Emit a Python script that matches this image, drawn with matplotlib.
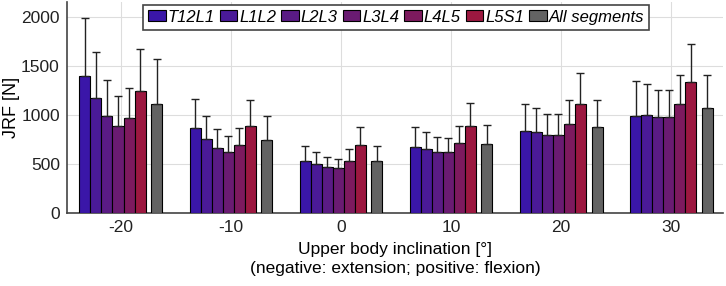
import numpy as np
import matplotlib.pyplot as plt

plt.rcParams['font.family'] = ['Liberation Sans', 'DejaVu Sans']
plt.rcParams['axes.unicode_minus'] = False

angles = [-20, -10, 0, 10, 20, 30]
segments = ['T12L1', 'L1L2', 'L2L3', 'L3L4', 'L4L5', 'L5S1', 'All segments']

# mean JRF per segment, one list per inclination angle
mean_vals = {
    'T12L1':        [1400, 867, 531, 670, 834, 990],
    'L1L2':         [1170, 755, 497, 650, 823, 1000],
    'L2L3':         [990, 663, 469, 619, 793, 976],
    'L3L4':         [891, 619, 459, 619, 799, 976],
    'L4L5':         [966, 690, 534, 714, 911, 1109],
    'L5S1':         [1248, 891, 697, 888, 1112, 1340],
    'All segments': [1109, 748, 534, 701, 881, 1068],
}
# top of the error bar (mean + SD)
err_top = {
    'T12L1':        [1990, 1163, 687, 881, 1109, 1347],
    'L1L2':         [1636, 990, 622, 823, 1068, 1313],
    'L2L3':         [1357, 857, 575, 772, 1013, 1258],
    'L3L4':         [1197, 786, 554, 769, 1013, 1252],
    'L4L5':         [1276, 870, 650, 888, 1153, 1408],
    'L5S1':         [1670, 1156, 874, 1126, 1425, 1721],
    'All segments': [1565, 993, 684, 901, 1156, 1405],
}

colors = ['#3a16a8', '#4a1a98', '#5a1b85', '#6a1b72', '#7d1a5e', '#9c1840', '#636363']
offsets = [-3.25, -2.25, -1.25, -0.25, 0.75, 1.75, 3.25]

fig = plt.figure(figsize=(7.26, 2.86), dpi=100)
ax = fig.add_axes([0.092, 0.255, 0.904, 0.738])

x = np.array(angles, dtype=float)
for seg, col, off in zip(segments, colors, offsets):
    m = np.array(mean_vals[seg])
    sd = np.array(err_top[seg]) - m
    ax.bar(x + off, m, width=1.0, color=col, edgecolor='black', linewidth=0.8,
           label=seg, zorder=3)
    ax.errorbar(x + off, m, yerr=[np.zeros_like(sd), sd], fmt='none',
                ecolor='#222222', elinewidth=1.0, capsize=3, capthick=1.0, zorder=4)

ax.set_xlim(-24.9, 34.7)
ax.set_ylim(0, 2150)
ax.set_xticks(angles)
ax.set_yticks([0, 500, 1000, 1500, 2000])
ax.tick_params(axis='both', labelsize=12.5, length=0, pad=5, colors='#222222')
ax.grid(True, color='#dddddd', linewidth=0.8, zorder=0)
ax.set_axisbelow(True)
for s in ['top', 'right']:
    ax.spines[s].set_visible(False)
for s in ['left', 'bottom']:
    ax.spines[s].set_color('#444444')
    ax.spines[s].set_linewidth(1.2)

ax.set_ylabel('JRF [N]', fontsize=13)
ax.yaxis.set_label_coords(-0.071, 0.5)
ax.set_xlabel('Upper body inclination [°]\n(negative: extension; positive: flexion)',
              fontsize=12.5, labelpad=5, linespacing=1.35)

leg = ax.legend(loc='upper center', bbox_to_anchor=(0.502, 0.995), ncol=7,
                prop={'style': 'italic', 'size': 12}, frameon=True, fancybox=False,
                handlelength=1.05, handleheight=0.65, handletextpad=0.12,
                columnspacing=0.3, borderpad=0.3, borderaxespad=0.1)
leg.get_frame().set_edgecolor('#444444')
leg.get_frame().set_linewidth(1.2)
leg.get_frame().set_alpha(1)

fig.savefig('out.png', dpi=100)
